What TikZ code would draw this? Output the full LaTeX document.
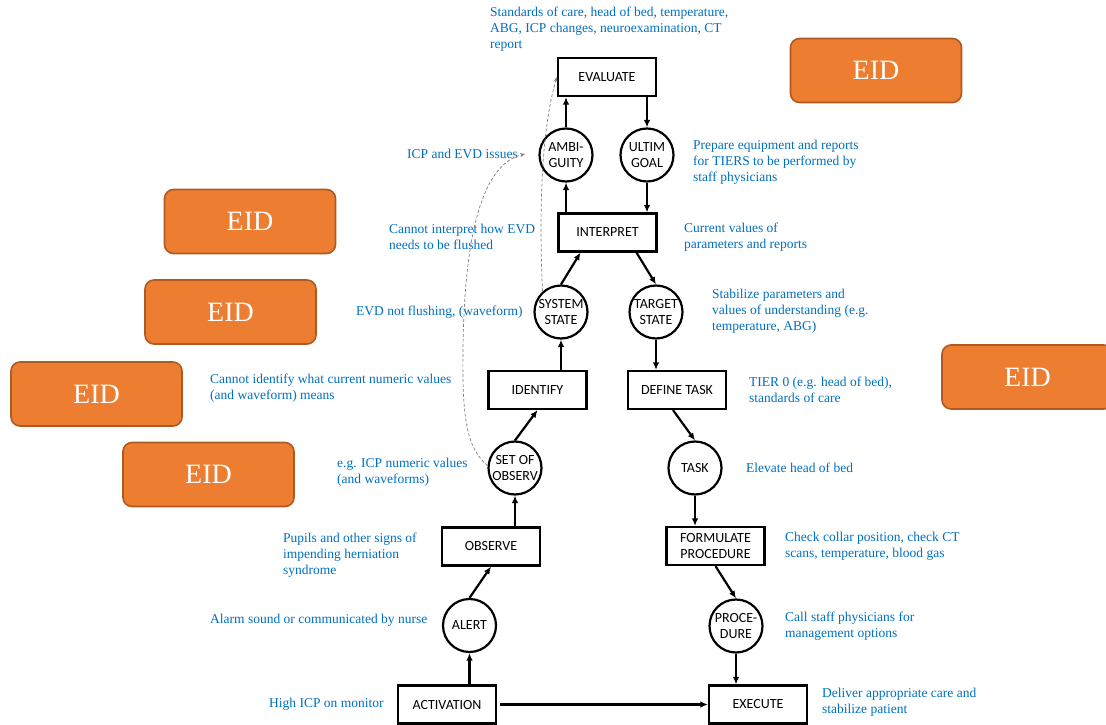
\documentclass[tikz,border=0pt]{standalone}
\usepackage{fontspec}
\setmainfont{Liberation Serif}
\newfontfamily\boxfont{Carlito}
\usetikzlibrary{arrows.meta,calc}
\definecolor{noteblue}{RGB}{0,112,192}
\definecolor{eidfill}{RGB}{237,125,49}
\definecolor{eidedge}{RGB}{174,90,33}
\begin{document}
\begin{tikzpicture}[x=1pt,y=-1pt,
  stepbox/.style={draw, line width=2.2pt, minimum width=98pt, minimum height=38pt,
    inner sep=1pt, font=\boxfont\fontsize{14}{16.5}\selectfont, align=center},
  state/.style={draw, circle, line width=2.2pt, minimum size=53pt, inner sep=0pt,
    font=\boxfont\fontsize{14}{16.5}\selectfont, align=center},
  note/.style={anchor=west, inner sep=0pt, align=left, text=noteblue,
    font=\fontsize{13.5}{16}\selectfont},
  eid/.style={draw=eidedge, fill=eidfill, line width=1.6pt, rounded corners=9pt,
    minimum width=171pt, minimum height=64pt, text=white,
    font=\fontsize{28}{32}\selectfont},
  flow/.style={line width=2.2pt, -{Latex[length=7.5pt,width=6.5pt]}},
  hint/.style={densely dashed, gray, line width=0.7pt, -{Stealth[length=5pt,width=4pt]}}
]
\clip (0,0) rectangle (1106,725);
\fill[white] (0,0) rectangle (1106,725);

% decision ladder: steps (boxes) and states of knowledge (circles)
\node[stepbox] (eval) at (607,77) {EVALUATE};
\node[state] (amb) at (566,155) {AMBI-\\GUITY};
\node[state] (goal) at (647,155) {ULTIM\\GOAL};
\node[stepbox] (interp) at (607.5,232.5) {INTERPRET};
\node[state] (sys) at (561,312) {SYSTEM\\STATE};
\node[state] (tgt) at (656,312) {TARGET\\STATE};
\node[stepbox] (ident) at (537.5,390) {IDENTIFY};
\node[stepbox] (deftask) at (677,390) {DEFINE TASK};
\node[state] (obsset) at (515,468) {SET OF\\OBSERV};
\node[state] (task) at (695,468) {TASK};
\node[stepbox] (observe) at (491,546.5) {OBSERVE};
\node[stepbox] (formulate) at (715.5,546) {FORMULATE\\PROCEDURE};
\node[state] (alert) at (469.5,625.5) {ALERT};
\node[state] (proc) at (736,626) {PROCE-\\DURE};
\node[stepbox] (activation) at (447,704.5) {ACTIVATION};
\node[stepbox] (execute) at (758,704.5) {EXECUTE};

% flow through the ladder
\draw[flow] (alert.south |- activation.north) -- (alert.south);
\draw[flow] (alert.north) -- (observe.south);
\draw[flow] (obsset.south |- observe.north) -- (obsset.south);
\draw[flow] (obsset.north) -- (ident.south);
\draw[flow] (sys.south |- ident.north) -- (sys.south);
\draw[flow] (sys.north) -- ([xshift=-27pt]interp.south);
\draw[flow] (amb.south |- interp.north) -- (amb.south);
\draw[flow] (amb.north) -- (amb.north |- eval.south);
\draw[flow] (goal.north |- eval.south) -- (goal.north);
\draw[flow] (goal.south) -- (goal.south |- interp.north);
\draw[flow] ([xshift=29pt]interp.south) -- (tgt.north);
\draw[flow] (tgt.south) -- (tgt.south |- deftask.north);
\draw[flow] ([xshift=-4pt]deftask.south) -- (task.north);
\draw[flow] (task.south) -- (task.south |- formulate.north);
\draw[flow] (formulate.south) -- (proc.north);
\draw[flow] (proc.south) -- (proc.south |- execute.north);
\draw[flow, shorten <=3pt] (activation) -- (execute);

% annotations
\node[note] at (490,29) {Standards of care, head of bed, temperature,\\ABG, ICP changes, neuroexamination, CT\\report};
\node[note] (issues) at (407,154) {ICP and EVD issues};
\node[note] at (693,162) {Prepare equipment and reports\\for TIERS to be performed by\\staff physicians};
\node[note] at (389,237) {Cannot interpret how EVD\\needs to be flushed};
\node[note] at (684,237) {Current values of\\parameters and reports};
\node[note] at (356,312) {EVD not flushing, (waveform)};
\node[note] at (712,311) {Stabilize parameters and\\values of understanding (e.g.\\temperature, ABG)};
\node[note] at (210,388) {Cannot identify what current numeric values\\(and waveform) means};
\node[note] at (749,390) {TIER 0 (e.g. head of bed),\\standards of care};
\node[note] at (337,472) {e.g. ICP numeric values\\(and waveforms)};
\node[note] at (746,468) {Elevate head of bed};
\node[note] at (283,555) {Pupils and other signs of\\impending herniation\\syndrome};
\node[note] at (785,546) {Check collar position, check CT\\scans, temperature, blood gas};
\node[note] at (210,620) {Alarm sound or communicated by nurse};
\node[note] at (785,626) {Call staff physicians for\\management options};
\node[note] at (269,704) {High ICP on monitor};
\node[note] at (822,702) {Deliver appropriate care and\\stabilize patient};

% shortcut links
\coordinate (issuetip) at (525,154);
\draw[hint] (obsset.175) .. controls (467,448) and (462,420) .. (463,350)
  .. controls (464,250) and (478,165) .. (issuetip);
\draw[hint] (sys.132) .. controls (539,215) and (541,130) .. (eval.west);

% EID markers
\node[eid] (eidA) at (876,70.5) {EID};
\node[eid] (eidB) at (250,221.5) {EID};
\node[eid] (eidC) at (230.5,312) {EID};
\node[eid] (eidD) at (96.5,394) {EID};
\node[eid] (eidE) at (208.5,474.5) {EID};
\node[eid] (eidF) at (1027.5,377) {EID};
\end{tikzpicture}
\end{document}
